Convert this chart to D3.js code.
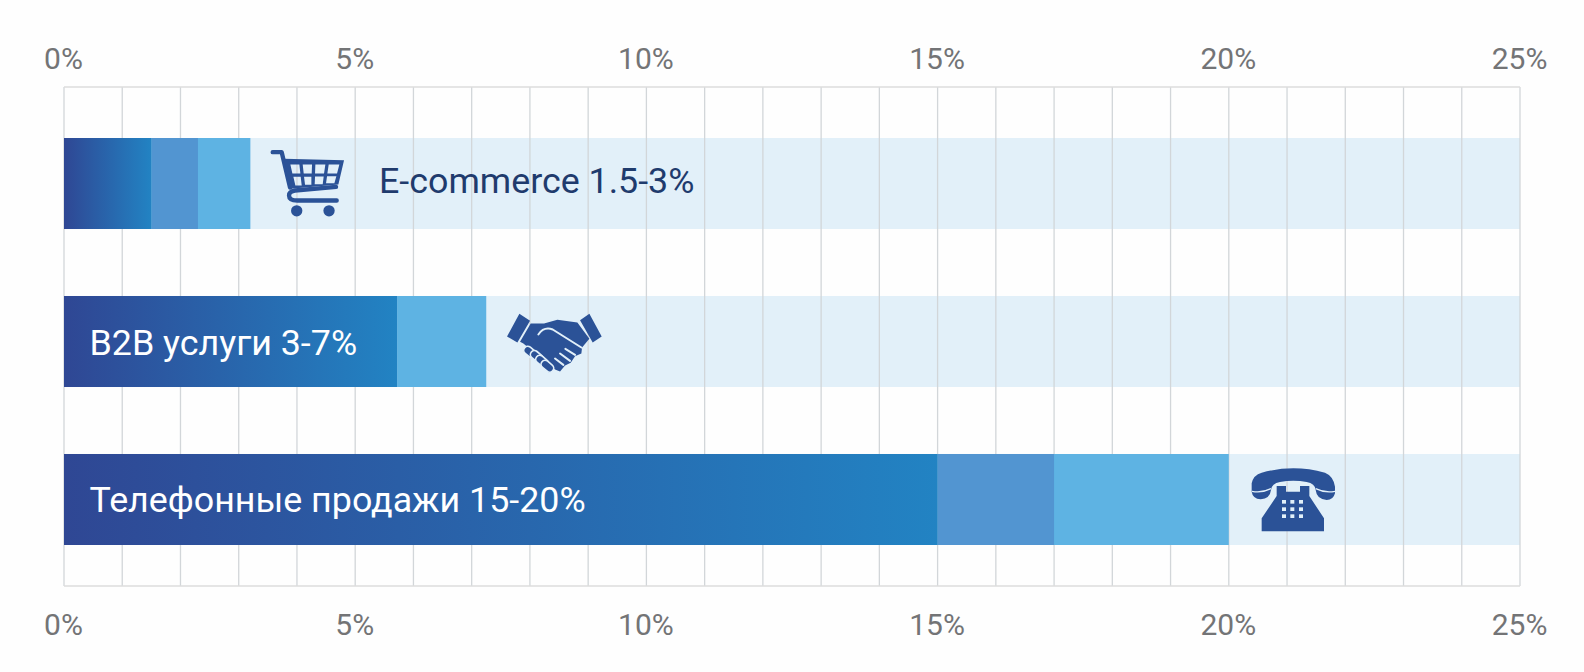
<!DOCTYPE html>
<html><head><meta charset="utf-8">
<script src="https://cdn.jsdelivr.net/npm/d3@7/dist/d3.min.js"></script>
<style>html,body{margin:0;padding:0;background:#fefefe}svg{display:block}text{font-family:Roboto,sans-serif}</style>
</head><body><svg id="c" width="1584" height="672"></svg>
<script>
const categories = ["E-commerce", "B2B", "Phone"];
const labels = ["E-commerce 1.5-3%", "B2B услуги 3-7%", "Телефонные продажи 15-20%"];
const solidEnd = [1.5, 5.72, 15];
const midEnd = [2.3, 5.72, 17];
const lightEnd = [3.2, 7.25, 20];
const tickValues = [0, 5, 10, 15, 20, 25];
const minorTicks = d3.range(0, 26);
const W = 1584, H = 672;
const m = {l: 64, r: 1520, t: 87, b: 586};
const x = d3.scaleLinear().domain([0, 25]).range([m.l, m.r]);
const y = d3.scaleBand().domain(categories).range([138, 545]).paddingInner(0.424).paddingOuter(0);
const TRACK = "#e2f0f9", NAVY = "#2b5297";
const svg = d3.select("#c");
const grad = svg.append("defs");
categories.forEach((c, i) => {
  const g = grad.append("linearGradient").attr("id", "g" + i).attr("x1", 0).attr("x2", 1).attr("y1", 0).attr("y2", 0);
  g.append("stop").attr("offset", 0).attr("stop-color", "#2f4794");
  g.append("stop").attr("offset", 1).attr("stop-color", "#2283c3");
});
// tracks
svg.selectAll(".track").data(categories).join("rect").attr("x", x(0)).attr("y", d => y(d))
  .attr("width", x(25) - x(0)).attr("height", y.bandwidth()).attr("fill", TRACK);
// grid
svg.selectAll(".grid").data(minorTicks).join("line").attr("x1", d => x(d)).attr("x2", d => x(d))
  .attr("y1", m.t).attr("y2", m.b).attr("stroke", "#d2d6d9").attr("stroke-width", 1.3);
[m.t, m.b].forEach(v => svg.append("line").attr("x1", m.l).attr("x2", m.r).attr("y1", v).attr("y2", v)
  .attr("stroke", "#dcdcdc").attr("stroke-width", 1.6));
// axes
[[d3.axisTop(x), 70], [d3.axisBottom(x), 604]].forEach(([ax, py]) => {
  const g = svg.append("g").attr("transform", `translate(0,${py})`)
    .call(ax.tickValues(tickValues).tickFormat(d => d + "%").tickSize(0).tickPadding(0));
  g.select(".domain").remove();
  g.selectAll("text").attr("font-size", 30).attr("fill", "#737476").attr("font-family", "Roboto,sans-serif")
    .attr("dx", -1).attr("y", py === 70 ? -1 : 10).attr("dy", py === 70 ? 0 : "0.71em");
});
// bars
categories.forEach((c, i) => {
  const h = y.bandwidth(), t = y(c);
  svg.append("rect").attr("x", x(solidEnd[i])).attr("y", t).attr("width", x(lightEnd[i]) - x(solidEnd[i])).attr("height", h).attr("fill", "#5eb3e3");
  if (midEnd[i] > solidEnd[i]) svg.append("rect").attr("x", x(solidEnd[i])).attr("y", t).attr("width", x(midEnd[i]) - x(solidEnd[i])).attr("height", h).attr("fill", "#5295d1");
  svg.append("rect").attr("x", x(0)).attr("y", t).attr("width", x(solidEnd[i]) - x(0)).attr("height", h).attr("fill", `url(#g${i})`);
});
// labels
const labelX = [379, 89.5, 89.5], labelFill = ["#1f3b6d", "#fff", "#fff"], labelShift = [-3.5, 0.5, -0.5];
labels.forEach((l, i) => svg.append("text").attr("x", labelX[i]).attr("y", y(categories[i]) + y.bandwidth() / 2 + labelShift[i])
  .attr("dy", "0.35em").attr("font-size", 35.8).attr("fill", labelFill[i]).text(l));
// icons (drawn in 1/3 px units)
function icon(cat, v) {
  return svg.append("g").attr("transform", `translate(${x(v)},${y(cat) + y.bandwidth() / 2}) scale(${1 / 3})`);
}
// cart
const cart = icon("E-commerce", lightEnd[0]).append("g").attr("transform", "translate(-31,-160)");
cart.append("path").attr("fill", "none").attr("stroke", NAVY).attr("stroke-width", 13).attr("stroke-linecap", "round").attr("stroke-linejoin", "round")
  .attr("d", "M98 66H125L150 172 M290 211H172Q147 211 147 196Q147 184 165 181L288 170");
cart.append("path").attr("fill", NAVY).attr("fill-rule", "evenodd")
  .attr("d", "M132 86L312 90L295 163L152 176Z M151 103L178 103L181 130L157 130Z M188 103L216 103L215 130L191 130Z M226 103L256 103L252 130L225 130Z M266 103L298 103L291 130L262 130Z M160 140L182 140L185 166L166 166Z M192 140L214 140L214 164L195 164Z M225 139L251 139L248 162L224 162Z M261 138L289 138L283 159L258 159Z");
cart.selectAll("circle").data([170, 267]).join("circle").attr("cx", d => d).attr("cy", 242).attr("r", 17).attr("fill", NAVY);
// handshake
const hs = icon("B2B", lightEnd[1]).append("g").attr("transform", "translate(-18.6,-154)");
hs.append("path").attr("fill", NAVY).attr("d", "M118 71L150 92L112 157L81 139Z M328 71L300 90L338 157L365 139Z");
hs.append("path").attr("fill", NAVY).attr("d", "M152 100L192 100L232 89L292 97L328 146L306 172L304 190L285 198L272 218L255 226L240 244L225 238L205 222L130 160L120 155Z");
hs.selectAll(".f").data([[150, 186], [170, 199], [186, 213], [202, 228]]).join("rect")
  .attr("x", -12).attr("y", -21).attr("width", 24).attr("height", 42).attr("rx", 12).attr("fill", NAVY).attr("stroke", TRACK).attr("stroke-width", 5)
  .attr("transform", d => `translate(${d[0]},${d[1]}) rotate(-50)`);
hs.append("path").attr("fill", "none").attr("stroke", TRACK).attr("stroke-width", 6).attr("stroke-linecap", "round").attr("stroke-linejoin", "round")
  .attr("d", "M175 133Q192 108 218 118L304 172 M256 176L285 194 M240 190L270 212 M225 205L250 224");
// phone
const ph = icon("Phone", lightEnd[2]).append("g").attr("transform", "translate(-86.4,-178.5)");
ph.append("path").attr("fill", NAVY).attr("d", "M155 130Q160 105 185 98Q280 72 375 98Q400 108 405 140V160Q400 180 380 180Q350 178 347 150Q345 130 320 126Q280 118 240 126Q215 130 213 150Q210 176 182 178Q158 176 155 155Z");
ph.append("path").attr("fill", "none").attr("stroke", TRACK).attr("stroke-width", 4).attr("d", "M156 154Q185 160 213 146 M347 146Q375 160 405 154");
ph.append("path").attr("fill", NAVY).attr("d", "M230 138H258V155H300V138H328V168L372 235V274H185V235L230 168Z");
const keyRows = [180, 202, 223], keyCols = [246, 271, 297];
keyRows.forEach(r => keyCols.forEach(k => ph.append("rect").attr("x", k).attr("y", r).attr("width", 12).attr("height", 11).attr("fill", TRACK)));
</script></body></html>
